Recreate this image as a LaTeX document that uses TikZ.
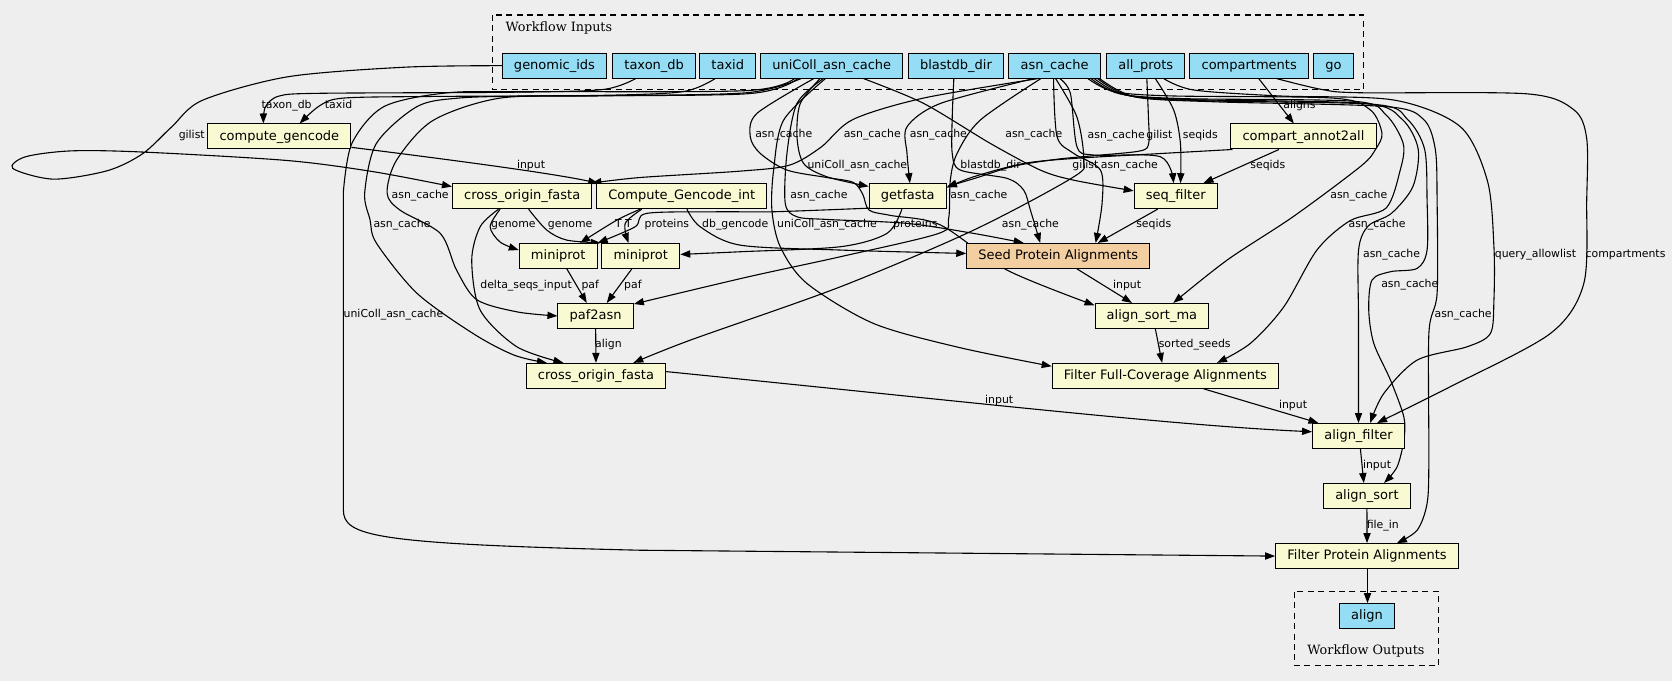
\documentclass[tikz,border=0pt]{standalone}
\usepackage{fontspec}
\setmainfont{DejaVu Sans}
\newfontfamily\ttlfont{DejaVu Serif}
\usetikzlibrary{arrows.meta,calc}
\pgfdeclarelayer{bg}
\pgfdeclarelayer{edges}
\pgfsetlayers{bg,edges,main}
\definecolor{bgc}{HTML}{EEEEEE}
\definecolor{inpc}{HTML}{94DDF4}
\definecolor{stpc}{HTML}{FAFAD2}
\definecolor{seedc}{HTML}{F3CEA1}
\newcommand{\nfont}{\fontsize{6.5}{7.5}\selectfont}
\newcommand{\lfont}{\fontsize{5.45}{6}\selectfont}
\begin{document}
\begin{tikzpicture}[x=0.5332pt,y=-0.5332pt,
  box/.style={draw=black,line width=0.5pt,font=\nfont,inner xsep=5.85pt,inner ysep=0pt,minimum height=12.5pt,text height=4.9pt,text depth=1.3pt},
  inp/.style={box,fill=inpc},
  stp/.style={box,fill=stpc},
  seedst/.style={box,fill=seedc},
  lab/.style={font=\lfont,inner sep=0pt,text height=4pt,text depth=1.1pt},
  ttl/.style={font=\ttlfont\fontsize{6.4}{7}\selectfont,inner sep=0pt},
  clus/.style={draw=black,line width=0.55pt,dash pattern=on 3pt off 2.2pt},
  e/.style={line width=0.55pt,-{Triangle[length=5pt,width=3.6pt]}}]
\useasboundingbox (0,0) rectangle (1568,639);
\begin{pgfonlayer}{bg}
\fill[bgc] (0,0) rectangle (1568,639);
\end{pgfonlayer}
% inputs
\node[inp] (gids) at (520,61.6) {genomic\_ids};
\node[inp] (txdb) at (613.5,61.6) {taxon\_db};
\node[inp] (txid) at (682.5,61.6) {taxid};
\node[inp] (uni) at (780,61.6) {uniColl\_asn\_cache};
\node[inp] (bdb) at (896.5,61.6) {blastdb\_dir};
\node[inp] (asn) at (989,61.6) {asn\_cache};
\node[inp] (ap) at (1074.5,61.6) {all\_prots};
\node[inp] (cmp) at (1171.5,61.6) {compartments};
\node[inp] (go) at (1250.5,61.6) {go};
% steps
\node[stp] (cg) at (262,128) {compute\_gencode};
\node[stp] (ca) at (1222.4,128) {compart\_annot2all};
\node[stp] (cof1) at (489.7,184) {cross\_origin\_fasta};
\node[stp] (cgi) at (639.4,184) {Compute\_Gencode\_int};
\node[stp] (gf) at (851.3,184) {getfasta};
\node[stp] (sf) at (1102.6,184) {seq\_filter};
\node[stp] (mp1) at (523.5,240) {miniprot};
\node[stp] (mp2) at (600.9,240) {miniprot};
\node[seedst] (seed) at (992.5,240) {Seed Protein Alignments};
\node[stp] (paf) at (558.6,296.3) {paf2asn};
\node[stp] (asm) at (1080.3,296.3) {align\_sort\_ma};
\node[stp] (cof2) at (558.9,352.5) {cross\_origin\_fasta};
\node[stp] (ffc) at (1092.9,352.5) {Filter Full-Coverage Alignments};
\node[stp] (af) at (1274,408.9) {align\_filter};
\node[stp] (asrt) at (1281.9,465.2) {align\_sort};
\node[stp] (fpa) at (1282,521.5) {Filter Protein Alignments};
\node[inp] (aln) at (1282,577.8) {align};
% cluster titles
\node[ttl,anchor=west] (tin) at (473.8,26) {Workflow Inputs};
\node[ttl] (tout) at (1281,610.7) {Workflow Outputs};
% edge labels
\node[lab] (l01) at (268.8,98.8) {taxon\_db};
\node[lab] (l02) at (317.5,98.8) {taxid};
\node[lab] (l03) at (179.8,127) {gilist};
\node[lab] (l04) at (498,155) {input};
\node[lab] (l05) at (394,183) {asn\_cache};
\node[lab] (l06) at (377,211) {asn\_cache};
\node[lab] (l07) at (369,295.5) {uniColl\_asn\_cache};
\node[lab] (l08) at (735,126.5) {asn\_cache};
\node[lab] (l09) at (818,126.5) {asn\_cache};
\node[lab] (l10) at (880,126.5) {asn\_cache};
\node[lab] (l11) at (969.5,126.5) {asn\_cache};
\node[lab] (l12) at (1046.8,127) {asn\_cache};
\node[lab] (l13) at (1087.3,127) {gilist};
\node[lab] (l14) at (1125.7,127) {seqids};
\node[lab] (l15) at (1218.6,98.8) {aligns};
\node[lab] (l16) at (804,155) {uniColl\_asn\_cache};
\node[lab] (l17) at (929,155) {blastdb\_dir};
\node[lab] (l18) at (1017.9,155) {gilist};
\node[lab] (l19) at (1059.1,155) {asn\_cache};
\node[lab] (l20) at (1189,155) {seqids};
\node[lab] (l21) at (768,183) {asn\_cache};
\node[lab] (l22) at (918,183) {asn\_cache};
\node[lab] (l23) at (1274.3,183) {asn\_cache};
\node[lab] (l24) at (481.5,211) {genome};
\node[lab] (l25) at (534.7,211) {genome};
\node[lab] (l26) at (580,211) {T};
\node[lab] (l27) at (589.4,211) {T};
\node[lab] (l28) at (625.4,211) {proteins};
\node[lab] (l29) at (689.5,211) {db\_gencode};
\node[lab] (l30) at (775.5,211) {uniColl\_asn\_cache};
\node[lab] (l31) at (858.4,210.5) {proteins};
\node[lab] (l32) at (966.3,210.5) {asn\_cache};
\node[lab] (l33) at (1082,210.5) {seqids};
\node[lab] (l34) at (1291.4,211) {asn\_cache};
\node[lab] (l35) at (1305,239.2) {asn\_cache};
\node[lab] (l36) at (1440,239.2) {query\_allowlist};
\node[lab] (l37) at (1524.4,239.2) {compartments};
\node[lab] (l38) at (493.4,267.4) {delta\_seqs\_input};
\node[lab] (l39) at (553.5,267.4) {paf};
\node[lab] (l40) at (593.5,267.4) {paf};
\node[lab] (l41) at (1057,267.4) {input};
\node[lab] (l42) at (1322.1,267.3) {asn\_cache};
\node[lab] (l43) at (1372.1,295.5) {asn\_cache};
\node[lab] (l44) at (570.6,323.6) {align};
\node[lab] (l45) at (1120.4,323) {sorted\_seeds};
\node[lab] (l46) at (937,376) {input};
\node[lab] (l47) at (1212.6,380) {input};
\node[lab] (l48) at (1291.4,436.3) {input};
\node[lab] (l49) at (1296.8,492.5) {file\_in};
\begin{pgfonlayer}{edges}
\draw[clus] (462,14.1) rectangle (1279,84);
\draw[clus] (1214,555.1) rectangle (1349.3,623.9);
% compute_gencode inputs
\draw[e] plot[smooth,tension=.5] coordinates {($(txdb.south)+(-17.5,0)$) (565,84) (480,86.5) (300,87.5) (262,90) (249,100) ($(cg.north)+(-15,0)$)};
\draw[e] plot[smooth,tension=.5] coordinates {($(txid.south)+(-12,0)$) (640,86) (560,89.5) (400,90.5) (322,92) (300,99) ($(cg.north)+(19,0)$)};
% gilist loop
\draw[e] plot[smooth,tension=.5] coordinates {(gids.west) (380,63) (270,72) (190,94) (161,119) (134,144) (101,160) (50,168) (12,158) (24,147) (67,141.5) (134,142.6) (269,150.5) (350,161) ($(cof1.west)+(0,-9)$)};
\draw[e] ($(cg.south east)+(0,-2)$) .. controls (440,152) and (520,163) .. ($(cgi.north west)+(2,0)$);
% uniColl edges
\draw[e] plot[smooth,tension=.5] coordinates {($(uni.south)+(-29,0)$) (700,87) (560,90) (469,92) (406,113) (372,150) (363,181) (375,197) (413,219) (428,253) (447,281) (485,292.5) (paf.west)};
\draw[e] plot[smooth,tension=.5] coordinates {($(uni.south)+(-32,0)$) (700,88) (500,90) (430,92) (391,100) (353,134.5) (342,181) (347,206) (353,228) (391,275) (444,313) (482,333) ($(cof2.north)+(-46,0)$)};
\draw[e] plot[smooth,tension=.5] coordinates {($(uni.south)+(-35,0)$) (700,85) (500,86) (420,87) (360,100) (330,134.5) (322,180)} -- (322,478) .. controls (322,503) and (350,510) .. (600,516) -- (fpa.west);
\draw[e] plot[smooth,tension=.5] coordinates {($(uni.south)+(-11,0)$) (750.5,97) (747.4,128.2) (753.6,153.3) (775.5,165.8) ($(gf.north west)+(0,3)$)};
\draw[e] plot[smooth,tension=.5] coordinates {($(uni.south)+(-17,0)$) (709.8,106.4) (703.6,128.2) (713,143.9) (738,159.5) (775.5,166.5) (800,171) (809,182) (815,197) (835,202) (882,211) (944.4,253.3) ($(asm.west)+(0,-10)$)};
\draw[e] plot[smooth,tension=.5] coordinates {($(uni.south)+(-8,0)$) (747.4,97) (738,143.9) (736.4,190.8) (747.4,203.3) (775.5,205.8) (850.6,209.5) (913.1,218.9) ($(seed.north)+(-32.5,0)$)};
\draw[e] plot[smooth,tension=.5] coordinates {($(uni.south)+(-6,0)$) (734.9,112.6) (725.5,159.5) (723.9,197) (731.7,231.4) (756.7,265.8) (819.3,303.4) (900,326) ($(ffc.west)+(0,-9)$)};
\draw[e] plot[smooth,tension=.5] coordinates {($(uni.south)+(30,0)$) (866.2,97) (928.7,134.5) (975.6,159.5) (1007,169) ($(sf.west)+(0,-5)$)};
% blastdb_dir
\draw[e] plot[smooth,tension=.5] coordinates {($(bdb.south)+(-2,0)$) (893,110) (893,143.9) (900.6,159.5) (944.4,167.3) (960,178.3) (966.3,197) ($(seed.north)+(-17,0)$)};
% asn_cache edges
\draw[e] plot[smooth,tension=.5] coordinates {($(asn.south)+(-16,0)$) (866,92) (800,112) (770,138) (740,155) (694,160.5) (600,166.5) ($(cof1.north east)+(-1,0)$)};
\draw[e] plot[smooth,tension=.5] coordinates {($(asn.south)+(-20,0)$) (882,97) (850.6,118.9) (850.6,143.9) ($(gf.north)+(2,0)$)};
\draw[e] plot[smooth,tension=.5] coordinates {($(asn.south)+(-13,0)$) (919.3,112.6) (897.5,143.9) (891.2,169) (889.6,205) (880,219) (788,240.8) (700,260) ($(paf.north east)+(0,1)$)};
\draw[e] plot[smooth,tension=.5] coordinates {($(asn.south)+(1,0)$) (1010,110) (1016.3,150.1) (1007,165.8) (913.1,215.8) (788,269) (647.3,319) ($(cof2.north)+(35,0)$)};
\draw[e] plot[smooth,tension=.5] coordinates {($(asn.south)+(5,0)$) (1003.8,87.6) (1010,137.6) (1025.7,145.4) (1088.2,147) ($(sf.north)+(-2,0)$)};
\draw[e] plot[smooth,tension=.5] coordinates {($(asn.south)+(-1,0)$) (991.3,128.2) (1007,143.9) (1032,159.5) (1033.5,190.8) ($(seed.north)+(35,0)$)};
\draw[e] plot[smooth,tension=.5] coordinates {($(asn.south east)+(-12,0)$) (1045,86) (1100,90) (1250,92) (1285,103) (1296,125) (1290,140) (1276,156) (1213,203) (1150.8,243.9) ($(asm.north)+(20,0)$)};
\draw[e] plot[smooth,tension=.5] coordinates {($(asn.south east)+(-9,0)$) (1050,88) (1110,92.5) (1270,95) (1300,108) (1316,135) (1313,160) (1300,195) (1266,207) (1235,234.5) (1204,287.7) (1172.6,322) ($(ffc.north)+(48.4,0)$)};
\draw[e] plot[smooth,tension=.5] coordinates {($(asn.south east)+(-6,0)$) (1055,89) (1120,93.5) (1280,97) (1315,112) (1330,140) (1325,175) (1305,200) (1283,212) (1274,235) (1274,300) (af.north)};
\draw[e] plot[smooth,tension=.5] coordinates {($(asn.south east)+(-3,0)$) (1060,90) (1130,94.5) (1290,98) (1320,112) (1336,140) (1338.3,187.6) (1338.3,234.5) (1329,251.7) (1304,254.8) (1286.7,262.6) (1283.6,290.8) (1288.3,322) (1304,356.5) (1316.5,391) (1316.5,412.8) (1310.2,437.8) ($(asrt.north)+(16,0)$)};
\draw[e] plot[smooth,tension=.5] coordinates {($(asn.south east)+(-1,0)$) (1065,91) (1140,95.5) (1300,100) (1335,112) (1346,140) (1347.7,187.6) (1347.7,275.2) (1340,312.7) (1340,431.5) (1338.3,472.2) (1329,497.2) ($(fpa.north)+(28,0)$)};
% all_prots, compartments
\draw[e] plot[smooth,tension=.5] coordinates {($(ap.south)+(1,0)$) (1077,110) (1077.3,134) (1069.5,141.5) (1025.7,146) (990,149.5) (950,156) (915,167) ($(gf.east)+(0,-9)$)};
\draw[e] plot[smooth,tension=.5] coordinates {($(ap.south)+(9,0)$) (1100.7,103.2) (1107,134.5) ($(sf.north)+(4.5,0)$)};
\draw[e] plot[smooth,tension=.5] coordinates {($(ap.south)+(17,0)$) (1119.5,84.4) (1200,90) (1307,93.8) (1369.6,118.9) (1395,170) (1401,231.4) (1401,281.4) (1397.7,312.7) (1375.9,325.2) (1329,337.7) (1297.7,369) ($(af.north)+(11,0)$)};
\draw[e] ($(cmp.south)+(9,0)$) -- ($(ca.north)+(-9,0)$);
\draw[e] plot[smooth,tension=.5] coordinates {($(cmp.south)+(26,0)$) (1240,84) (1276,87) (1432,88) (1476,103) (1488,130) (1488,187.6) (1485.3,265.8) (1454,312.7) (1360,362.7) ($(af.north)+(17.4,0)$)};
% compart_annot2all outputs
\draw[e] ($(ca.south)+(-23,0)$) -- ($(sf.north)+(26,0)$);
\draw[e] plot[smooth,tension=.5] coordinates {($(ca.south west)+(2,0)$) (1088,144) (1007,148.6) (960,153.3) (913,165.8) ($(gf.east)+(0,-8)$)};
\draw[e] ($(sf.south)+(-17,0)$) -- ($(seed.north)+(37,0)$);
% left step edges
\draw[e] plot[smooth,tension=.5] coordinates {($(cof1.south)+(-20.7,0)$) (459.6,212.6) (469,227) ($(mp1.west)+(0,-5.5)$)};
\draw[e] plot[smooth,tension=.5] coordinates {($(cof1.south)+(6,0)$) (512.8,215.8) (531.6,225.2) ($(mp2.north west)+(-0.5,0)$)};
\draw[e] plot[smooth,tension=.5] coordinates {($(cgi.south)+(-39,0)$) (578.5,206.4) ($(mp1.north)+(20.5,0)$)};
\draw[e] plot[smooth,tension=.5] coordinates {($(cgi.south)+(-37.5,0)$) (586.3,209.5) ($(mp2.north)+(-11.5,0)$)};
\draw[e] plot[smooth,tension=.5] coordinates {($(gf.south west)+(1,-1)$) (725.5,198.6) (675.4,198.6) (606.6,200.1) (595.6,212.7) (mp1.north east)};
\draw[e] plot[smooth,tension=.5] coordinates {($(gf.south)+(-5.5,0)$) (831.8,218.9) (788,231.4) (694.2,236.1) ($(mp2.east)+(0,-1.4)$)};
\draw[e] plot[smooth,tension=.5] coordinates {($(cgi.south)+(4.8,0)$) (656.7,212.7) (694.2,229.9) (788,234.5) ($(seed.west)+(0,-2.3)$)};
\draw[e] plot[smooth,tension=.5] coordinates {($(cof1.south)+(-22.2,0)$) (450.3,212.6) (442.4,243.9) (450.3,290.8) (484.7,325.2) ($(cof2.north)+(-30.5,0)$)};
\draw[e] ($(mp1.south)+(8.1,0)$) -- ($(paf.north)+(-8.3,0)$);
\draw[e] ($(mp2.south)+(-8.4,0)$) -- ($(paf.north)+(10.4,0)$);
\draw[e] (paf.south) -- (cof2.north);
% lower right chain
\draw[e] ($(seed.south)+(17.5,0)$) -- ($(asm.north)+(-18.7,0)$);
\draw[e] ($(asm.south)+(3.2,0)$) -- ($(ffc.north)+(-3.1,0)$);
\draw[e] ($(ffc.south)+(36,0)$) -- ($(af.north west)+(6,0)$);
\draw[e] ($(cof2.east)+(0,-4)$) .. controls (900,376) and (1100,399) .. ($(af.west)+(0,-4)$);
\draw[e] ($(af.south)+(1.8,0)$) -- ($(asrt.north)+(-2.9,0)$);
\draw[e] (asrt.south) -- (fpa.north);
\draw[e] ($(fpa.south)+(0.45,0)$) -- ($(aln.north)+(0.45,0)$);
\end{pgfonlayer}
\end{tikzpicture}
\end{document}
